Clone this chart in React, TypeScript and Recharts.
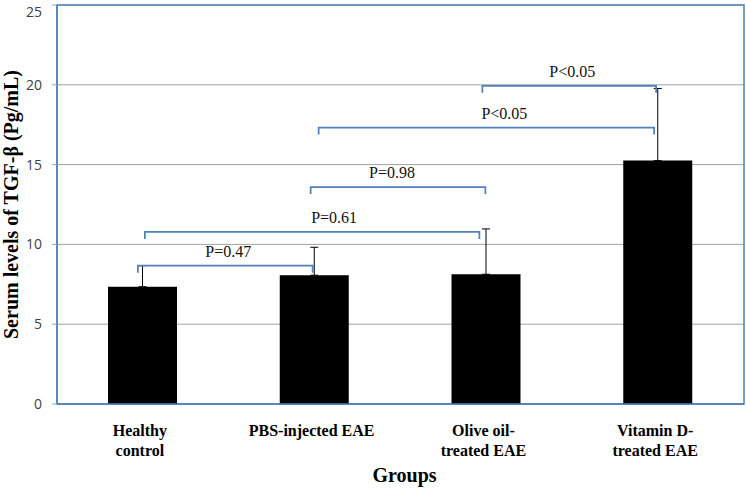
import { BarChart, Bar, XAxis, YAxis, CartesianGrid, ErrorBar, ReferenceLine, ReferenceArea } from 'recharts';

const groups = ['Healthy control', 'PBS-injected EAE', 'Olive oil-treated EAE', 'Vitamin D-treated EAE'];
const meanValues = [7.35, 8.07, 8.13, 15.25];
const sdValues = [1.32, 1.75, 2.84, 4.52];
const tickLabelLines = [['Healthy', 'control'], ['PBS-injected EAE'], ['Olive oil-', 'treated EAE'], ['Vitamin D-', 'treated EAE']];
const yTicks = [0, 5, 10, 15, 20, 25];

// significance brackets: group index pairs, height in data units, text
const bracketFrom = [0, 0, 1, 1, 2];
const bracketTo = [1, 2, 2, 3, 3];
const bracketLevels = [8.67, 10.78, 13.59, 17.32, 19.94];
const bracketLabels = ['P=0.47', 'P=0.61', 'P=0.98', 'P<0.05', 'P<0.05'];

// small pixel nudges so the brackets sit like the original
const labelShift = [3, 22, -6, 18, 3];
const leftShift = [-5, 2, -4, 4, -4];
const rightShift = [-2, -7, -1, -4, -2];

const BLUE = '#4F81BD';
const SERIF = '"Liberation Serif", "Times New Roman", serif';

const data = groups.map((g, i) => ({ group: g, mean: meanValues[i], err: [0, sdValues[i]] }));

const XTick = ({ x, y, index }: any) => {
    const lines = tickLabelLines[index] || [];
    return (
        <g transform={`translate(${x - 3},${y})`}>
            {lines.map((l, i) => (
                <text key={i} x={0} y={32 + i * 20} textAnchor="middle" fontFamily={SERIF} fontWeight="bold" fontSize={16} fill="#000">
                    {l}
                </text>
            ))}
        </g>
    );
};

// top label would poke out of the picture, so nudge it down a little
const YTick = ({ x, y, payload }: any) => (
    <text x={x} y={y + (payload.value === 25 ? 3 : 0)} dy="0.35em" textAnchor="end" fontFamily='"Open Sans", sans-serif' fontSize={14} fill="#404040">
        {payload.value}
    </text>
);

const makeBracket = (i: number) => (props: any) => {
    const x1 = props.x1 + leftShift[i];
    const x2 = props.x2 + rightShift[i];
    const y = props.y1;
    const drop = 7;
    return (
        <g>
            <path d={`M${x1},${y + drop} L${x1},${y} L${x2},${y} L${x2},${y + drop}`} fill="none" stroke={BLUE} strokeWidth={1.75} />
            <text x={(x1 + x2) / 2 + labelShift[i]} y={y - 9} textAnchor="middle" fontFamily={SERIF} fontSize={16} fill="#111">
                {bracketLabels[i]}
            </text>
        </g>
    );
};

const YTitle = ({ viewBox }: any) => {
    const { x, y, height } = viewBox;
    return (
        <text transform={`translate(${x + 18},${y + height / 2}) rotate(-90)`} textAnchor="middle" fontFamily={SERIF} fontWeight="bold" fontSize={20} fill="#000">
            Serum levels of TGF-β (Pg/mL)
        </text>
    );
};

export default function App() {
    return (
        <div style={{ position: 'absolute', left: 0, top: 0 }}>
            <BarChart width={746} height={501} data={data} margin={{ top: 5, right: 2, bottom: 0, left: 0 }}>
                <CartesianGrid vertical={false} stroke="#A0A0A0" />
                <XAxis
                    dataKey="group"
                    height={97}
                    axisLine={{ stroke: BLUE, strokeWidth: 1.5 }}
                    tickLine={false}
                    tickSize={0}
                    tickMargin={0}
                    tick={<XTick />}
                    interval={0}
                    label={{ value: 'Groups', position: 'insideBottom', offset: 19, fontFamily: SERIF, fontWeight: 'bold', fontSize: 20, fill: '#000', dx: 4 }}
                />
                <YAxis
                    width={57}
                    domain={[0, 25]}
                    ticks={yTicks}
                    axisLine={{ stroke: BLUE, strokeWidth: 1.5 }}
                    tickLine={{ stroke: '#8EA9CF' }}
                    tickSize={5}
                    tickMargin={10}
                    tick={<YTick />}
                    label={{ content: YTitle }}
                />
                <Bar dataKey="mean" fill="#000" barSize={69} isAnimationActive={false}>
                    <ErrorBar dataKey="err" direction="y" width={4} stroke="#000" strokeWidth={1} />
                </Bar>
                <ReferenceArea y1={0} y2={25} fill="none" stroke={BLUE} strokeWidth={1.5} ifOverflow="visible" />
                {bracketLevels.map((lvl, i) => (
                    <ReferenceLine
                        key={i}
                        segment={[{ x: groups[bracketFrom[i]], y: lvl }, { x: groups[bracketTo[i]], y: lvl }]}
                        ifOverflow="visible"
                        shape={makeBracket(i)}
                    />
                ))}
            </BarChart>
        </div>
    );
}
